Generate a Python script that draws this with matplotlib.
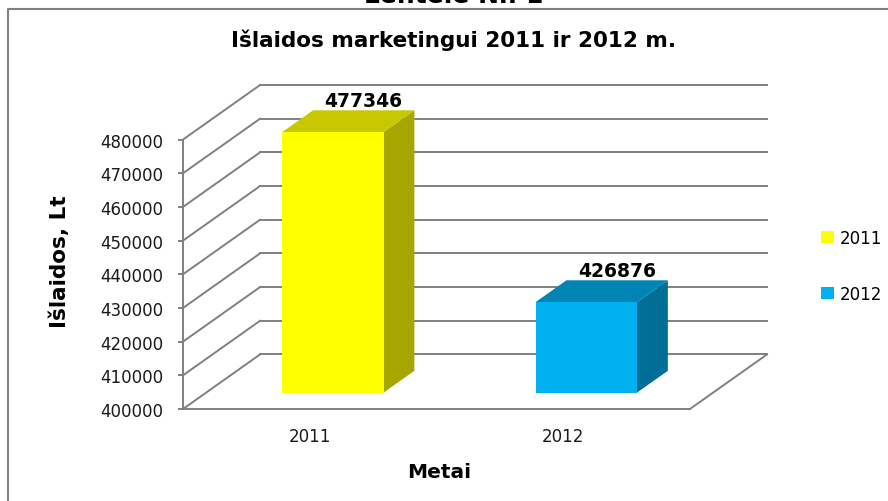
import matplotlib
matplotlib.use('Agg')
import matplotlib.pyplot as plt
from matplotlib.patches import Polygon, Patch

# ---------------- data ----------------
years = ['2011', '2012']
spend = [477346, 426876]
y_ticks = list(range(400000, 480001, 10000))

face_colors = ['#FFFF00', '#00B0F0']
top_colors = ['#C8C800', '#0084B4']
side_colors = ['#A6A600', '#006E96']

W, H = 888, 502
fig = plt.figure(figsize=(W / 100, H / 100), dpi=100)
fig.patch.set_facecolor('white')

# plot box in pixels: front-left corner to back-right corner
x0_px, x1_px = 183, 767
y0_px, y1_px = 410, 86
ax = fig.add_axes([x0_px / W, 1 - y0_px / H, (x1_px - x0_px) / W, (y0_px - y1_px) / H])
ax.patch.set_alpha(0)

n = len(years)
DX = 0.304    # depth shift, category units
DY = 16200    # depth shift, value units
ymin, ymax = y_ticks[0], y_ticks[-1]
ax.set_xlim(0, n + DX)
ax.set_ylim(ymin, ymax + DY)

grid_c = '#808080'
lw = 1.4

# side wall diagonals + back wall gridlines
for v in y_ticks:
    ax.plot([0, DX], [v, v + DY], color=grid_c, lw=lw, clip_on=False, zorder=1)
    ax.plot([DX, n + DX], [v + DY, v + DY], color=grid_c, lw=lw, clip_on=False, zorder=1)
# floor right edge
ax.plot([n, n + DX], [ymin, ymin + DY], color=grid_c, lw=lw, clip_on=False, zorder=1)

# 3D bars
d0, d1 = 0.3, 0.7
bw = 0.4
for i, v in enumerate(spend):
    xl = i + 0.5 - bw / 2
    xr = i + 0.5 + bw / 2
    front = [(xl + d0 * DX, ymin + d0 * DY), (xr + d0 * DX, ymin + d0 * DY),
             (xr + d0 * DX, v + d0 * DY), (xl + d0 * DX, v + d0 * DY)]
    side = [(xr + d0 * DX, ymin + d0 * DY), (xr + d1 * DX, ymin + d1 * DY),
            (xr + d1 * DX, v + d1 * DY), (xr + d0 * DX, v + d0 * DY)]
    top = [(xl + d0 * DX, v + d0 * DY), (xr + d0 * DX, v + d0 * DY),
           (xr + d1 * DX, v + d1 * DY), (xl + d1 * DX, v + d1 * DY)]
    ax.add_patch(Polygon(side, closed=True, facecolor=side_colors[i], edgecolor='none', zorder=3))
    ax.add_patch(Polygon(top, closed=True, facecolor=top_colors[i], edgecolor='none', zorder=3))
    ax.add_patch(Polygon(front, closed=True, facecolor=face_colors[i], edgecolor='none', zorder=4))
    ax.text(i + 0.5 + d1 * DX, v + d1 * DY, str(v), ha='center', va='bottom',
            fontsize=13.5, fontweight='bold', color='black', zorder=5)

# axes
for s in ['top', 'right']:
    ax.spines[s].set_visible(False)
ax.spines['left'].set_bounds(ymin, ymax)
ax.spines['bottom'].set_bounds(0, n)
for s in ['left', 'bottom']:
    ax.spines[s].set_color(grid_c)
    ax.spines[s].set_linewidth(lw)
ax.set_yticks(y_ticks)
ax.set_yticklabels([str(v) for v in y_ticks])
ax.tick_params(axis='y', length=3.6, width=lw, color=grid_c, pad=10.5, labelsize=12, labelcolor='#1a1a1a')
ax.set_xticks([i + 0.5 for i in range(n)])
ax.set_xticklabels(years)
ax.tick_params(axis='x', length=0, pad=13, labelsize=12, labelcolor='#1a1a1a')

# texts
fig.text(454 / W, 1 - 40 / H, 'Išlaidos marketingui 2011 ir 2012 m.', ha='center', va='center',
         fontsize=15.5, fontweight='bold')
fig.text(60 / W, 1 - 262 / H, 'Išlaidos, Lt', rotation=90, ha='center', va='center',
         fontsize=15.5, fontweight='bold')
fig.text(439 / W, 1 - 473 / H, 'Metai', ha='center', va='center', fontsize=14.5, fontweight='bold')
fig.text(454 / W, 1 - 3 / H, 'Lentelė Nr. 1', ha='center', va='baseline', fontsize=18, fontweight='bold')

# legend
handles = [Patch(facecolor=c, edgecolor='none', label=y) for c, y in zip(face_colors, years)]
fig.legend(handles=handles, loc='center left', bbox_to_anchor=(821 / W, 1 - 267 / H),
           frameon=False, fontsize=12, handlelength=0.75, handleheight=0.75,
           handletextpad=0.35, labelspacing=2.3, borderpad=0, borderaxespad=0)

# chart border
fig.add_artist(plt.Line2D([8 / W, 8 / W, 1], [0, 1 - 9.5 / H, 1 - 9.5 / H],
                          transform=fig.transFigure, color=grid_c, lw=1.5))

fig.savefig('out.png', dpi=100)
